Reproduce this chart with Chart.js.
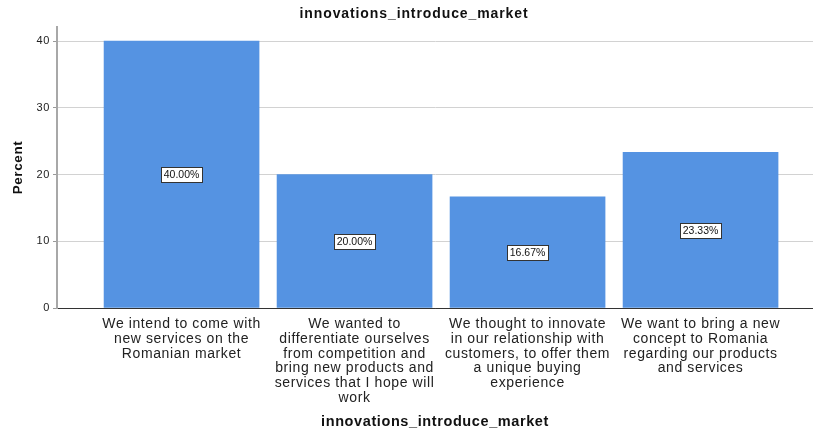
<!DOCTYPE html>
<html lang="en">
<head>
    <meta charset="UTF-8">
    <title>innovations_introduce_market</title>
    <script src="https://cdn.jsdelivr.net/npm/chart.js"></script>
<style>
    body { margin: 0; background: #ffffff; font-family: 'Liberation Sans', Arial, sans-serif; }
    #wrap { width: 813px; height: 434px; }
</style>
</head>
<body>
<div id="wrap"><canvas id="innovChart"></canvas></div>
<script>
// chart data
const categories = [
    ['We intend to come with', 'new services on the', 'Romanian market'],
    ['We wanted to', 'differentiate ourselves', 'from competition and', 'bring new products and', 'services that I hope will', 'work'],
    ['We thought to innovate', 'in our relationship with', 'customers, to offer them', 'a unique buying', 'experience'],
    ['We want to bring a new', 'concept to Romania', 'regarding our products', 'and services']
];
const percents = [40.00, 20.00, 16.67, 23.33];
const yTicks = [0, 10, 20, 30, 40];

const chartTitle = 'innovations_introduce_market';
const xTitle = 'innovations_introduce_market';
const yTitle = 'Percent';

const FONT = "'Liberation Sans', Arial, sans-serif";

// SPSS output text is a bit wider than plain Arial
const spacing = {
    id: 'spacing',
    beforeDraw(chart) { chart.ctx.letterSpacing = '0.6px'; }
};

// white boxed percent labels in the middle of each bar + chart title
const boxLabels = {
    id: 'boxLabels',
    afterDatasetsDraw(chart) {
        const ctx = chart.ctx;
        const xs = chart.scales.x, ys = chart.scales.y;
        ctx.save();
        ctx.letterSpacing = '0px';
        ctx.font = '10.5px ' + FONT;
        ctx.textAlign = 'center';
        ctx.textBaseline = 'middle';
        percents.forEach((v, i) => {
            const txt = v.toFixed(2) + '%';
            const cx = xs.getPixelForValue(i);
            const cy = ys.getPixelForValue(v / 2);
            const w = Math.round(ctx.measureText(txt).width + 5);
            const h = 15;
            const bx = Math.round(cx - w / 2) + 0.5, by = Math.round(cy - h / 2) + 0.5;
            ctx.fillStyle = '#ffffff';
            ctx.fillRect(bx, by, w, h);
            ctx.strokeStyle = '#333333';
            ctx.lineWidth = 1;
            ctx.strokeRect(bx, by, w, h);
            ctx.fillStyle = '#111111';
            ctx.fillText(txt, cx, cy + 1);
        });
        ctx.letterSpacing = '0.9px';
        ctx.font = 'bold 14px ' + FONT;
        ctx.fillText(chartTitle, 414, 14);
        ctx.restore();
    }
};

new Chart(document.getElementById('innovChart'), {
    type: 'bar',
    data: {
        datasets: [{
            label: 'Percent',
            data: percents.map((v, i) => ({ x: i, y: v })),
            backgroundColor: '#5593e2',
            borderWidth: 0,
            barThickness: 155
        }]
    },
    options: {
        responsive: true,
        maintainAspectRatio: false,
        animation: false,
        layout: { padding: { top: 27, left: 0, right: 0, bottom: 0 } },
        plugins: {
            legend: { display: false },
            tooltip: { enabled: false },
            title: { display: false }
        },
        scales: {
            x: {
                type: 'linear',
                offset: false,
                min: -0.72,
                max: 3.65,
                afterBuildTicks: s => { s.ticks = categories.map((c, i) => ({ value: i })); },
                afterFit: s => { s.height = 126; },
                grid: { display: false, drawTicks: false, offset: false },
                border: { display: true, color: '#333333', width: 1 },
                ticks: {
                    autoSkip: false,
                    maxRotation: 0,
                    padding: 9,
                    color: '#222222',
                    font: { family: FONT, size: 14, lineHeight: 1.05 },
                    callback: v => categories[v]
                },
                title: {
                    display: true,
                    text: xTitle,
                    color: '#111111',
                    font: { family: FONT, size: 14.5, weight: 'bold' },
                    padding: { top: 0, bottom: 3 }
                }
            },
            y: {
                min: 0,
                max: 42.1,
                afterBuildTicks: s => { s.ticks = yTicks.map(v => ({ value: v })); },
                afterFit: s => { s.width = 57; },
                grid: {
                    color: c => c.tick && c.tick.value === 0 ? '#333333' : '#d2d2d2',
                    tickLength: 4,
                    tickColor: '#999999'
                },
                border: { display: true, color: '#a8a8a8', width: 2 },
                ticks: {
                    padding: 3,
                    color: '#222222',
                    font: { family: FONT, size: 11 }
                },
                title: {
                    display: true,
                    text: yTitle,
                    color: '#111111',
                    font: { family: FONT, size: 13.5, weight: 'bold' },
                    padding: { top: 10, bottom: 0 }
                }
            }
        }
    },
    plugins: [spacing, boxLabels]
});
</script>
</body>
</html>
